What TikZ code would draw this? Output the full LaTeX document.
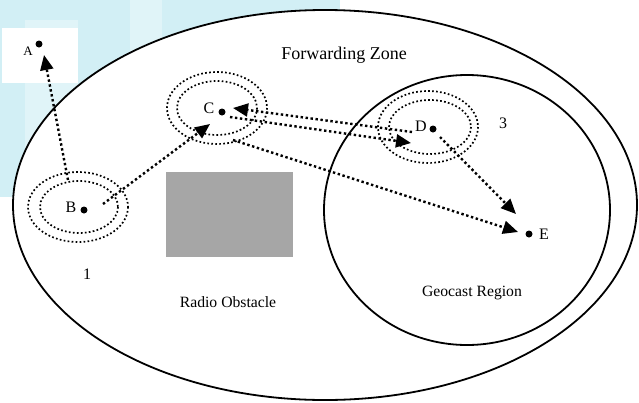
\documentclass[tikz,border=0pt]{standalone}
\usepackage{fontspec}
\setmainfont{Liberation Serif}
\usetikzlibrary{arrows.meta}
\definecolor{wmcyan}{HTML}{D2EFF5}
\definecolor{wmlight}{HTML}{E0F4F8}
\definecolor{obst}{HTML}{A6A6A6}
\tikzset{
  zone/.style={draw=black, line width=1.8pt},
  radiorange/.style={draw=black, line width=1.7pt, dash pattern=on 1.7pt off 2.3pt},
  hop/.style={draw=black, line width=2.4pt, dash pattern=on 2.4pt off 2.6pt,
    -{Triangle[length=15pt,width=13pt]}},
  vehicle/.style={circle, fill=black, inner sep=0pt, minimum size=7pt},
  lbl/.style={font=\fontsize{16}{18}\selectfont, anchor=base, inner sep=0pt},
  txt/.style={font=\fontsize{15.7}{18}\selectfont, anchor=base, inner sep=0pt}
}
\begin{document}
\begin{tikzpicture}[x=1pt,y=-1pt]
\useasboundingbox (0,0) rectangle (639,402);
% watermark background
\fill[wmcyan] (0,0) rectangle (340,197);
\fill[wmlight] (130,0) rectangle (162,120);
\fill[wmlight] (25,20) rectangle (78,197);
\fill[white] (2,28) rectangle (78,83);
% zones
\fill[white] (325,205) ellipse [x radius=312, y radius=195];
\draw[zone] (325,205) ellipse [x radius=312, y radius=195];
\draw[zone] (467,210) ellipse [x radius=143, y radius=135];
% obstacle
\fill[obst] (166,172) rectangle (293,257);
% radio ranges
\draw[radiorange] (78,207) ellipse [x radius=50, y radius=35];
\draw[radiorange] (79,207) ellipse [x radius=39, y radius=26];
\draw[radiorange] (217,108) ellipse [x radius=50, y radius=36];
\draw[radiorange] (217,108) ellipse [x radius=40, y radius=27];
\draw[radiorange] (428,127) ellipse [x radius=50, y radius=36];
\draw[radiorange] (430,127) ellipse [x radius=41, y radius=27];
% vehicles
\node[vehicle] (A) at (39,44) {};
\node[vehicle] (B) at (84,210) {};
\node[vehicle] (C) at (222,112) {};
\node[vehicle] (D) at (433,129) {};
\node[vehicle] (E) at (529,234) {};
% connector end points
\coordinate (BAs) at (68,180);  \coordinate (BAe) at (44,55);
\coordinate (BCs) at (103,204); \coordinate (BCe) at (210,124);
\coordinate (CDs) at (230,117); \coordinate (CDe) at (411,143);
\coordinate (DCs) at (412,132); \coordinate (DCe) at (233,108);
\coordinate (CEs) at (233,140); \coordinate (CEe) at (518,232);
\coordinate (DEs) at (440,137); \coordinate (DEe) at (516,214);
\draw[hop] (BAs) -- (BAe);
\draw[hop] (BCs) -- (BCe);
\draw[hop] (CDs) -- (CDe);
\draw[hop] (DCs) -- (DCe);
\draw[hop] (CEs) -- (CEe);
\draw[hop] (DEs) -- (DEe);
% labels
\node[lbl, font=\fontsize{13}{15}\selectfont] (lA) at (28,55) {A};
\node[lbl] (lB) at (71,212) {B};
\node[lbl] (lC) at (209,113) {C};
\node[lbl] (lD) at (421,131) {D};
\node[lbl] (lE) at (544,239) {E};
\node[lbl] (l3) at (503,128) {3};
\node[lbl] (l1) at (87,279) {1};
\node[txt, font=\fontsize{18}{20}\selectfont] (fz) at (344,59) {Forwarding Zone};
\node[txt] (ro) at (228,307) {Radio Obstacle};
\node[txt] (gr) at (472,296) {Geocast Region};
\end{tikzpicture}
\end{document}
